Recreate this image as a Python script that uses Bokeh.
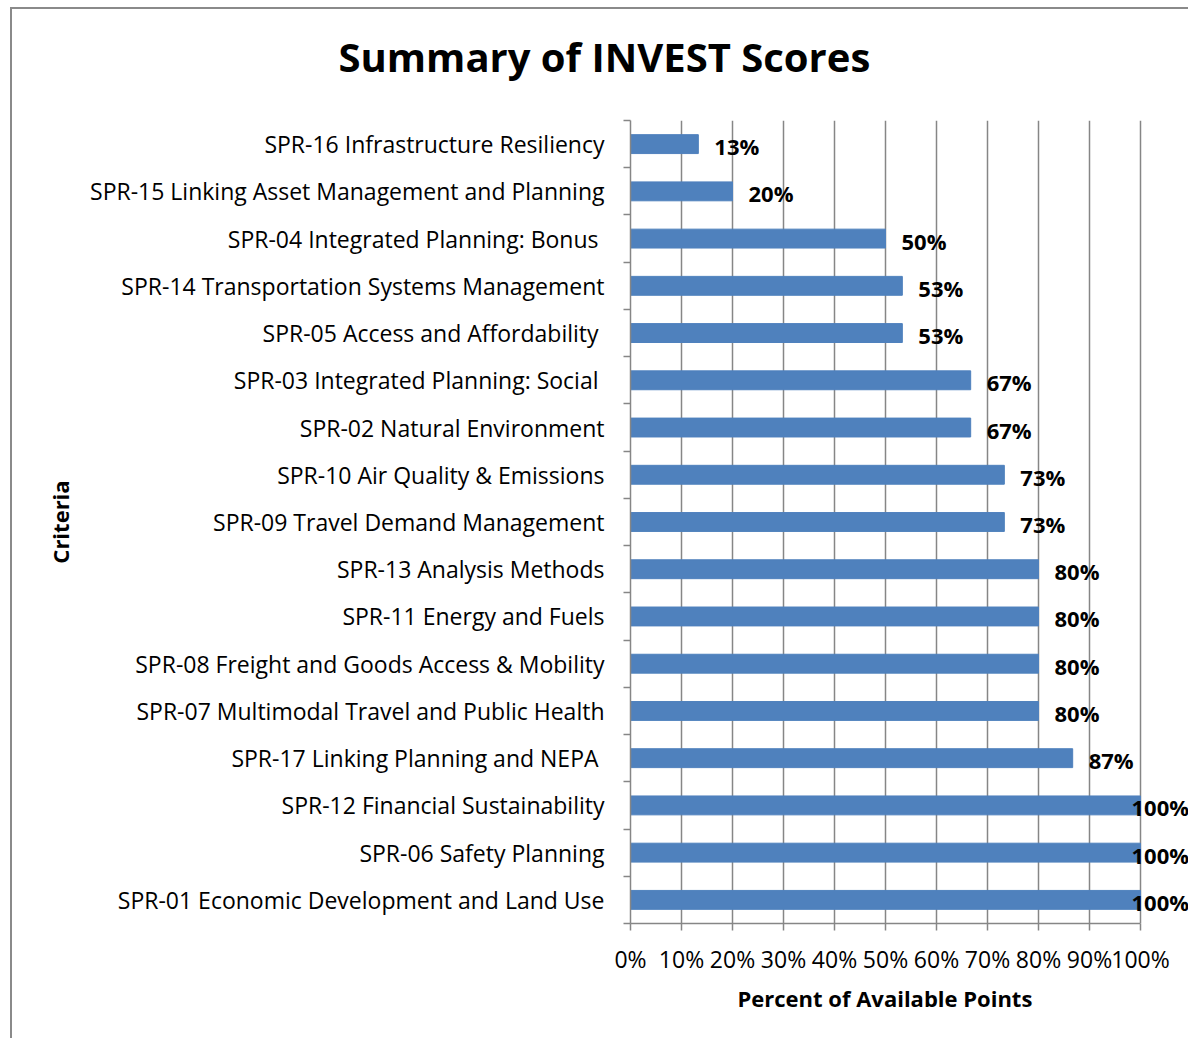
from bokeh.plotting import figure
from bokeh.models import FixedTicker, LabelSet, ColumnDataSource, Title
from bokeh.core.properties import value
from bokeh.embed import file_html
from bokeh.resources import INLINE

# ---- data (bottom to top) ----
categories = [
    "SPR-01 Economic Development and Land Use",
    "SPR-06 Safety Planning",
    "SPR-12 Financial Sustainability",
    "SPR-17 Linking Planning and NEPA ",
    "SPR-07 Multimodal Travel and Public Health",
    "SPR-08 Freight and Goods Access & Mobility",
    "SPR-11 Energy and Fuels",
    "SPR-13 Analysis Methods",
    "SPR-09 Travel Demand Management",
    "SPR-10 Air Quality & Emissions",
    "SPR-02 Natural Environment",
    "SPR-03 Integrated Planning: Social ",
    "SPR-05 Access and Affordability ",
    "SPR-14 Transportation Systems Management",
    "SPR-04 Integrated Planning: Bonus ",
    "SPR-15 Linking Asset Management and Planning",
    "SPR-16 Infrastructure Resiliency",
]
scores = [100, 100, 100, 86.7, 80, 80, 80, 80, 73.3, 73.3, 66.7, 66.7, 53.3, 53.3, 50, 20, 13.3]
x_ticks = [0, 10, 20, 30, 40, 50, 60, 70, 80, 90, 100]
x_tick_labels = ["0%", "10%", "20%", "30%", "40%", "50%", "60%", "70%", "80%", "90%", "100%"]

FONT = "Open Sans"
GREY = "#868686"
BAR = "#4f81bd"

idx = list(range(len(categories)))
label_text = [f"{round(s)}%" for s in scores]
xoff = [-9 if s >= 100 else 16 for s in scores]

src = ColumnDataSource(dict(y=idx, right=scores, text=label_text, xoff=xoff))

p = figure(width=1178, height=1031, x_range=(0, 109.8), y_range=(-0.5, len(categories) - 0.5),
           output_backend="svg", toolbar_location=None, title=None,
           min_border_left=618, min_border_right=0, min_border_top=111, min_border_bottom=117)
p.styles = {"margin-left": "10px", "margin-top": "7px",
            "border-left": "2px solid #8a8a8a", "border-top": "2px solid #8a8a8a"}
p.outline_line_color = None
p.background_fill_color = "white"

# spacer panel next to the frame, then the chart title above it
p.add_layout(Title(text=" ", text_font_size="1px", standoff=34), "above")
p.add_layout(Title(text="Summary of INVEST Scores", align="left", offset=-292, standoff=0,
                   text_font=FONT, text_font_size="40px", text_font_style="bold",
                   text_color="black"), "above")

p.hbar(y="y", left=0, right="right", height=0.4, source=src, fill_color=BAR, line_color=BAR)

labels = LabelSet(x="right", y="y", text="text", source=src, x_offset="xoff", y_offset=-2,
                  text_font=value(FONT), text_font_size="22px", text_font_style="bold",
                  text_baseline="middle", text_align="left", text_color="black")
p.add_layout(labels)

# x axis
xa = p.xaxis[0]
xa.ticker = FixedTicker(ticks=x_ticks)
xa.bounds = (0, 100)
xa.major_label_overrides = dict(zip(x_ticks, x_tick_labels))
xa.axis_line_color = GREY
xa.axis_line_width = 1.5
xa.major_tick_line_color = GREY
xa.major_tick_line_width = 1.5
xa.major_tick_out = 7
xa.major_tick_in = 0
xa.minor_tick_line_color = None
xa.major_label_text_font = FONT
xa.major_label_text_font_size = "23px"
xa.major_label_text_color = "black"
xa.major_label_standoff = 12

# x axis title, centred under the 0-100% rule
p.add_layout(Title(text="Percent of Available Points", align="left", offset=107, standoff=6,
                   text_font=FONT, text_font_size="22px", text_font_style="bold",
                   text_color="black"), "below")

# y axis
ya = p.yaxis[0]
ya.ticker = FixedTicker(ticks=idx, minor_ticks=[i - 0.5 for i in range(len(categories) + 1)])
ya.major_label_overrides = dict(zip(idx, categories))
ya.axis_line_color = GREY
ya.axis_line_width = 1.5
ya.major_tick_line_color = None
ya.major_tick_out = 0
ya.major_tick_in = 0
ya.minor_tick_line_color = GREY
ya.minor_tick_line_width = 1.5
ya.minor_tick_out = 7
ya.minor_tick_in = 0
ya.major_label_text_font = FONT
ya.major_label_text_font_size = "23px"
ya.major_label_text_color = "black"
ya.major_label_standoff = 19
ya.axis_label = "Criteria"
ya.axis_label_text_font = FONT
ya.axis_label_text_font_size = "22px"
ya.axis_label_text_font_style = "bold"
ya.axis_label_text_color = "black"
ya.axis_label_standoff = 12

p.ygrid.grid_line_color = None
p.xgrid.ticker = FixedTicker(ticks=x_ticks)
p.xgrid.grid_line_color = GREY
p.xgrid.grid_line_width = 1.5

open("out.html", "w").write(file_html(p, INLINE))
